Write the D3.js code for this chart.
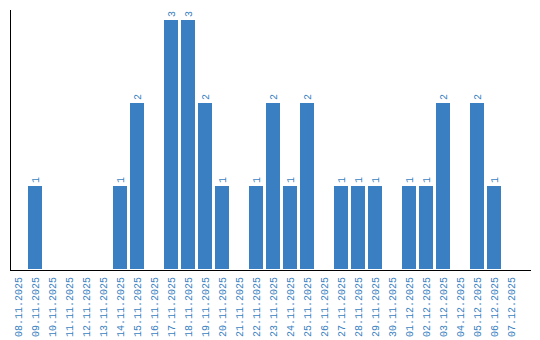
<!DOCTYPE html>
<html>
<head>
<meta charset="utf-8">
<script src="https://cdn.jsdelivr.net/npm/d3@7"></script>
<style>
body { margin: 0; background: #fff; }
text { font-family: "Liberation Mono", monospace; font-size: 10px; fill: #3a7fc1; }
</style>
</head>
<body>
<script>
var width = 540;
var height = 340;

var dates = ["08.11.2025","09.11.2025","10.11.2025","11.11.2025","12.11.2025","13.11.2025",
	"14.11.2025","15.11.2025","16.11.2025","17.11.2025","18.11.2025","19.11.2025","20.11.2025",
	"21.11.2025","22.11.2025","23.11.2025","24.11.2025","25.11.2025","26.11.2025","27.11.2025",
	"28.11.2025","29.11.2025","30.11.2025","01.12.2025","02.12.2025","03.12.2025","04.12.2025",
	"05.12.2025","06.12.2025","07.12.2025"];
var counts = [0,1,0,0,0,0,1,2,0,3,3,2,1,0,1,2,1,2,0,1,1,1,0,1,1,2,0,2,1,0];

var data = dates.map(function(d, i) { return { date: d, value: counts[i] }; });

var svg = d3.select("body").append("svg")
	.attr("width", width)
	.attr("height", height);

var x = d3.scaleBand()
	.domain(dates)
	.range([11, 518])
	.paddingInner(3 / 17)
	.paddingOuter(0);

var y = d3.scaleLinear()
	.domain([0, 3])
	.range([269, 20]);

svg.append("g")
	.selectAll("rect")
	.data(data.filter(function(d) { return d.value > 0; }))
	.enter()
	.append("rect")
	.attr("x", function(d) { return x(d.date); })
	.attr("y", function(d) { return y(d.value); })
	.attr("width", x.bandwidth())
	.attr("height", function(d) { return y(0) - y(d.value); })
	.style("fill", "#3a7fc1");

// value labels, rotated
svg.append("g")
	.selectAll("text")
	.data(data.filter(function(d) { return d.value > 0; }))
	.enter()
	.append("text")
	.attr("transform", function(d) {
		return "translate(" + (x(d.date) + x.bandwidth() / 2 + 3.5) + "," + (y(d.value) - 3) + ") rotate(-90)";
	})
	.attr("text-anchor", "start")
	.text(function(d) { return d.value; });

// axes lines
svg.append("line")
	.attr("x1", 10.5).attr("x2", 10.5)
	.attr("y1", 10).attr("y2", 270)
	.style("stroke", "#000");
svg.append("line")
	.attr("x1", 10).attr("x2", 531)
	.attr("y1", 270.5).attr("y2", 270.5)
	.style("stroke", "#000");

// date labels
svg.append("g")
	.selectAll("text")
	.data(dates)
	.enter()
	.append("text")
	.attr("transform", function(d) {
		return "translate(" + (x(d) + x.bandwidth() / 2 + 3.5) + ",277) rotate(-90)";
	})
	.attr("text-anchor", "end")
	.text(function(d) { return d; });
</script>
</body>
</html>
